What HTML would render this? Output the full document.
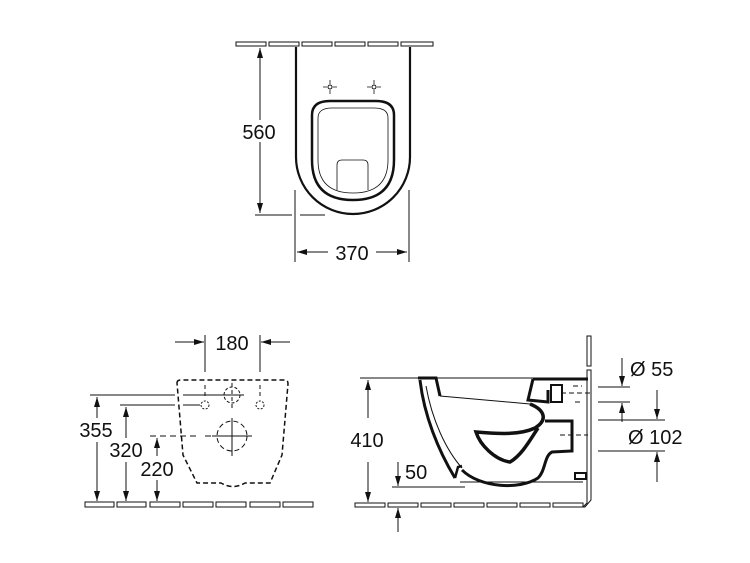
<!DOCTYPE html>
<html><head><meta charset="utf-8"><style>
html,body{margin:0;padding:0;background:#fff;}
svg{display:block;}
text{font-family:"Liberation Sans",sans-serif;fill:#111;}
</style></head><body>
<svg width="750" height="563" viewBox="0 0 750 563" xmlns="http://www.w3.org/2000/svg">
<defs>
<marker id="a" markerWidth="10" markerHeight="8" refX="10" refY="4" orient="auto" markerUnits="userSpaceOnUse"><path d="M0,1 L10,4 L0,7 Z" fill="#111"/></marker>
</defs>
<g stroke="#111" fill="none" stroke-width="1">
<!-- TOP VIEW -->
<g fill="#fff" stroke-width="1">
<rect x="236" y="42" width="30" height="4"/><rect x="269" y="42" width="30" height="4"/><rect x="302" y="42" width="30" height="4"/><rect x="335" y="42" width="30" height="4"/><rect x="368" y="42" width="30" height="4"/><rect x="401" y="42" width="32" height="4"/>
</g>
<path d="M296,47 L296,157 A57,57 0 0 0 410,157 L410,47" stroke-width="2.2"/>
<path d="M312,115 Q312,101 330,101 L376,101 Q394,101 394,115 L394,160 Q394,200 353,200 Q312,200 312,160 Z" stroke-width="2.5"/>
<path d="M318,118 Q318,108 332,108 L374,108 Q388,108 388,118 L388,160 Q388,193 353,193 Q318,193 318,160 Z" stroke-width="0.8"/>
<path d="M337,190 L337,165 Q337,160 342,160 L363,160 Q368,160 368,165 L368,190" stroke-width="0.8"/>
<circle cx="330" cy="87" r="2"/><path d="M323,87h4M333,87h4M330,80v4M330,90v4" stroke-width="0.8"/>
<circle cx="374" cy="87" r="2"/><path d="M367,87h4M377,87h4M374,80v4M374,90v4" stroke-width="0.8"/>
<line x1="260" y1="120" x2="260" y2="48" marker-end="url(#a)"/>
<line x1="260" y1="142" x2="260" y2="213" marker-end="url(#a)"/>
<path d="M255,215 H292 M300,215 H325"/>
<path d="M295,190 V262 M409,190 V262"/>
<line x1="328" y1="252" x2="297" y2="252" marker-end="url(#a)"/>
<line x1="376" y1="252" x2="407" y2="252" marker-end="url(#a)"/>

<!-- BOTTOM LEFT -->
<g fill="#fff">
<rect x="85" y="502" width="29" height="5"/><rect x="117" y="502" width="29" height="5"/><rect x="150" y="502" width="30" height="5"/><rect x="183" y="502" width="30" height="5"/><rect x="216" y="502" width="30" height="5"/><rect x="250" y="502" width="30" height="5"/><rect x="283" y="502" width="30" height="5"/>
</g>
<path d="M177,383 Q177,380 181,380 L285,380 Q288,380 288,384 L282,455 L270,483 L245,483 Q233,490 221,483 L197,483 L183,455 Z" stroke-width="1.5" stroke-dasharray="5,3"/>
<line x1="175" y1="342" x2="204" y2="342" marker-end="url(#a)"/>
<line x1="290" y1="342" x2="261" y2="342" marker-end="url(#a)"/>
<path d="M205,335 V372 M260,335 V372"/>
<path d="M205,385 V398 M260,385 V398 M232,383 V408 M232,445 V458" stroke-dasharray="4,3"/>
<path d="M90,395 H175 M183,395 H222 M120,405 H175 M183,405 H200"/>
<path d="M150,436 H200 M205,436 H250" stroke-dasharray="6,4"/>
<circle cx="205" cy="405" r="4" stroke-dasharray="2,1.5"/><circle cx="260" cy="405" r="4" stroke-dasharray="2,1.5"/>
<circle cx="232" cy="395" r="8" stroke-dasharray="3,2"/><path d="M220,395h24"/>
<circle cx="232" cy="436" r="15" stroke-dasharray="5,3"/><path d="M212,436h40M232,418v36"/>
<line x1="97" y1="418" x2="97" y2="397" marker-end="url(#a)"/><line x1="97" y1="442" x2="97" y2="501" marker-end="url(#a)"/>
<line x1="126" y1="438" x2="126" y2="407" marker-end="url(#a)"/><line x1="126" y1="462" x2="126" y2="501" marker-end="url(#a)"/>
<line x1="157" y1="456" x2="157" y2="438" marker-end="url(#a)"/><line x1="157" y1="480" x2="157" y2="501" marker-end="url(#a)"/>

<!-- BOTTOM RIGHT -->
<g fill="#fff">
<rect x="355" y="503" width="30" height="4"/><rect x="388" y="503" width="30" height="4"/><rect x="421" y="503" width="30" height="4"/><rect x="454" y="503" width="30" height="4"/><rect x="487" y="503" width="30" height="4"/><rect x="520" y="503" width="30" height="4"/><rect x="553" y="503" width="30" height="4"/>
<rect x="587" y="336" width="4" height="30"/>
<path d="M587,370 H591 V500 L585,507 H583 L587,503 Z"/>
</g>
<path d="M360,378 H588"/>
<path d="M420,380 C424,415 438,450 455,478" stroke-width="3"/>
<path d="M426,386 C432,420 446,450 462,468" stroke-width="1"/>
<path d="M418,378 L436,378 L440,396" stroke-width="3"/>
<path d="M440,396 L530,404" stroke-width="1"/>
<path d="M455,478 L458,467 L462,466" stroke-width="2.5"/>
<path d="M462,470 C480,488 520,490 538,478 C546,470 544,456 552,452 L572,451 L572,421 L545,421" stroke-width="3"/>
<path d="M460,482 H583"/>
<path d="M530,404 C545,410 548,420 535,428 C520,435 500,434 476,432 C480,445 495,460 510,462 C522,455 530,440 538,428" stroke-width="3.5"/>
<path d="M533,379 L528,400 L548,402 L548,390" stroke-width="3"/>
<path d="M533,379 H588" stroke-width="3"/>
<path d="M551,385 H562 V402 H551 Z" stroke-width="2"/>
<rect x="575" y="473" width="11" height="6" stroke-width="2"/>
<path d="M573,386 H582 M575,402 H582 M561,393 H590 M560,435 H588" stroke-dasharray="5,3"/>
<line x1="368" y1="418" x2="368" y2="380" marker-end="url(#a)"/><line x1="368" y1="462" x2="368" y2="502" marker-end="url(#a)"/>
<line x1="398" y1="462" x2="398" y2="486" marker-end="url(#a)"/>
<path d="M392,487 H465"/>
<line x1="398" y1="532" x2="398" y2="508" marker-end="url(#a)"/>
<line x1="622" y1="358" x2="622" y2="386" marker-end="url(#a)"/>
<line x1="622" y1="422" x2="622" y2="403" marker-end="url(#a)"/>
<path d="M598,387 H630 M598,402 H630 M598,420 H665 M598,451 H665"/>
<line x1="657" y1="390" x2="657" y2="419" marker-end="url(#a)"/>
<line x1="657" y1="482" x2="657" y2="452" marker-end="url(#a)"/>
</g>
<g font-size="20">
<text x="259" y="139" text-anchor="middle">560</text>
<text x="352" y="260" text-anchor="middle">370</text>
<text x="232" y="350" text-anchor="middle">180</text>
<text x="96" y="437" text-anchor="middle">355</text>
<text x="126" y="457" text-anchor="middle">320</text>
<text x="157" y="476" text-anchor="middle">220</text>
<text x="367" y="447" text-anchor="middle">410</text>
<text x="405" y="479">50</text>
<text x="630" y="376">Ø 55</text>
<text x="628" y="444">Ø 102</text>
</g>
</svg>
</body></html>
